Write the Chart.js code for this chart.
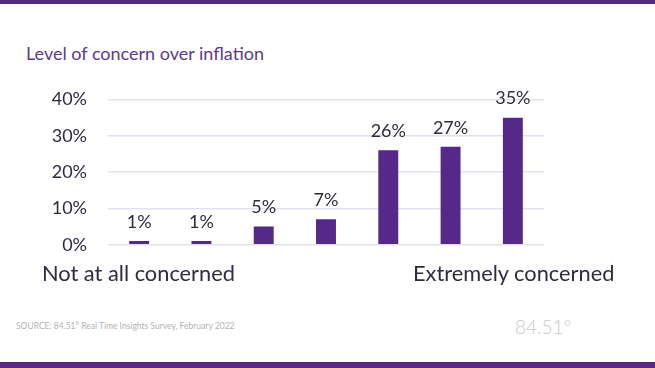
<!DOCTYPE html>
<html>
<head>
<meta charset="utf-8">
<script src="https://cdn.jsdelivr.net/npm/chart.js@4"></script>
<style>
    html, body { margin: 0; padding: 0; background: #fff; }
    body { width: 655px; height: 368px; position: relative; overflow: hidden; font-family: Lato, sans-serif; }
    .bar-top { position: absolute; left: 0; top: 0; width: 655px; height: 4px; background: #58297f; }
    .bar-bottom { position: absolute; left: 0; top: 362px; width: 655px; height: 6px; background: #58297f; }
    .title { position: absolute; left: 26px; top: 42px; font-size: 18px; color: #5d3a8e; }
    .chart-box { position: absolute; left: 0; top: 80px; width: 560px; height: 180px; }
    .end-label { position: absolute; top: 259px; font-size: 21.8px; color: #2f2c3d; }
    .source { position: absolute; left: 16px; top: 321px; font-size: 8.5px; color: #b3b3b3; }
    .logo { position: absolute; left: 515px; top: 315px; font-size: 19px; font-weight: 300; color: #c9c9c9; }
</style>
</head>
<body>
<div class="bar-top"></div>
<div class="title">Level of concern over inflation</div>
<div class="chart-box"><canvas id="concernChart"></canvas></div>
<div class="end-label" style="left:42px">Not at all concerned</div>
<div class="end-label" style="left:413px">Extremely concerned</div>
<div class="source">SOURCE: 84.51° Real Time Insights Survey, February 2022</div>
<div class="logo">84.51°</div>
<div class="bar-bottom"></div>
<script>
const categories = ['1', '2', '3', '4', '5', '6', '7'];
const values = [1, 1, 5, 7, 26, 27, 35];
const yTicks = [0, 10, 20, 30, 40];

const barColor = '#55288a';
const textColor = '#2f2c3d';

// draws the % labels above each bar
const valueLabels = {
    id: 'valueLabels',
    afterDatasetsDraw(chart) {
        const { ctx } = chart;
        const meta = chart.getDatasetMeta(0);
        ctx.save();
        ctx.font = '18px Lato, sans-serif';
        ctx.fillStyle = textColor;
        ctx.textAlign = 'center';
        ctx.textBaseline = 'bottom';
        meta.data.forEach((bar, i) => {
            ctx.fillText(values[i] + '%', bar.x, bar.y - 10);
        });
        ctx.restore();
    },
};

new Chart(document.getElementById('concernChart'), {
    type: 'bar',
    data: {
        labels: categories,
        datasets: [
            {
                data: values,
                backgroundColor: barColor,
                barPercentage: 0.4,
                categoryPercentage: 0.8,
            },
        ],
    },
    options: {
        responsive: true,
        maintainAspectRatio: false,
        animation: false,
        layout: {
            padding: { top: 19.5, right: 16, bottom: 15.3, left: 0 },
        },
        plugins: {
            legend: { display: false },
            tooltip: { enabled: false },
        },
        scales: {
            x: {
                display: false,
            },
            y: {
                min: 0,
                max: 40,
                afterFit: (scale) => {
                    scale.width = 108;
                    scale.paddingTop = 0;
                    scale.paddingBottom = 0;
                },
                afterBuildTicks: (scale) => {
                    scale.ticks = yTicks.map((v) => ({ value: v }));
                },
                border: { display: false },
                grid: {
                    color: '#e3e1ee',
                    lineWidth: 1.5,
                    drawTicks: false,
                },
                ticks: {
                    padding: 21,
                    color: textColor,
                    font: { family: 'Lato, sans-serif', size: 18 },
                    callback: (v) => v + '%',
                },
            },
        },
    },
    plugins: [valueLabels],
});
</script>
</body>
</html>
